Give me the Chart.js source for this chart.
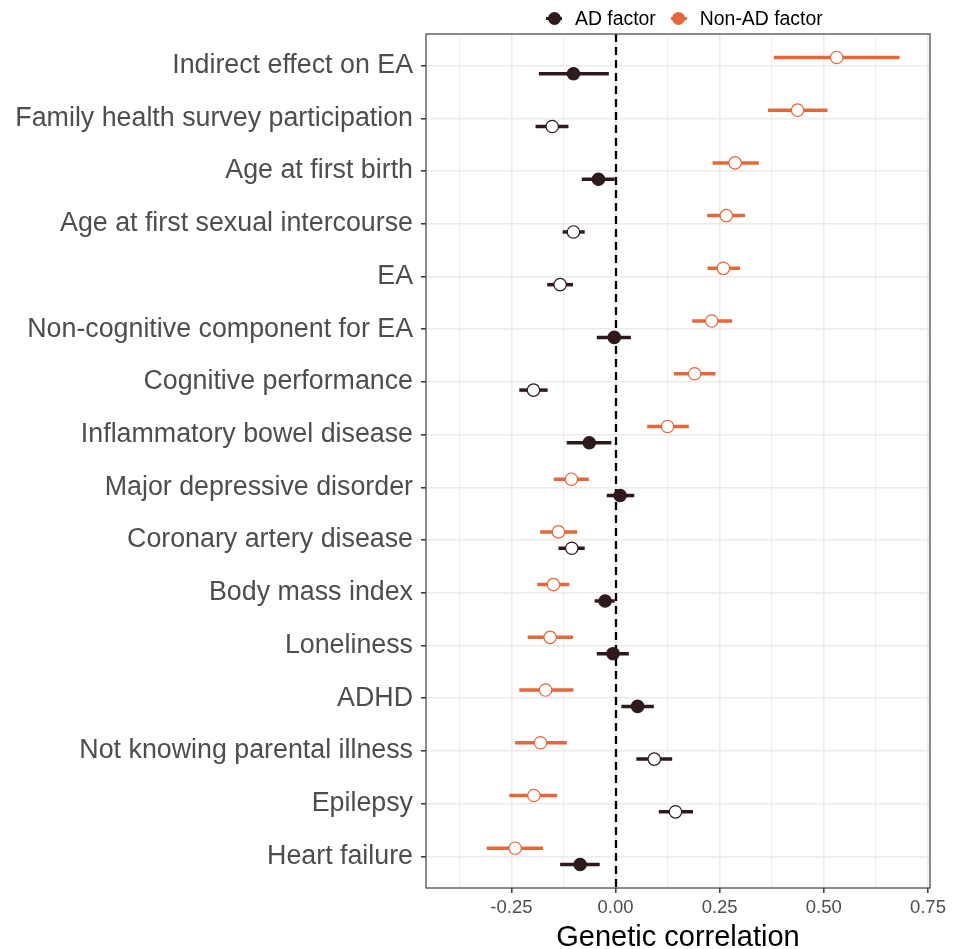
<!DOCTYPE html>
<html>
<head>
<meta charset="utf-8">
<script src="https://cdn.jsdelivr.net/npm/chart.js@4.4.1/dist/chart.umd.min.js"></script>
<style>
  html, body { margin: 0; padding: 0; background: #fff; }
  #wrap { position: relative; width: 958px; height: 949px; }
  #legend {
    position: absolute; left: 546px; top: 6px; height: 24px;
    display: flex; align-items: center;
    font-family: "Liberation Sans", Arial, sans-serif; font-size: 19.4px; color: #000;
  }
  #legend .item { display: flex; align-items: center; margin-right: 15px; }
  #legend .key { position: relative; width: 16px; height: 14px; margin-right: 13px; }
  #legend .key .ln { position: absolute; left: 0; right: 0; top: 5.5px; height: 3px; }
  #legend .key .dot { position: absolute; left: 1.5px; top: 0.5px; width: 13px; height: 13px; border-radius: 50%; }
</style>
</head>
<body>
<div id="wrap">
  <canvas id="c"></canvas>
  <div id="legend"></div>
</div>
<script>
// categories, top to bottom
var categories = [
  "Indirect effect on EA",
  "Family health survey participation",
  "Age at first birth",
  "Age at first sexual intercourse",
  "EA",
  "Non-cognitive component for EA",
  "Cognitive performance",
  "Inflammatory bowel disease",
  "Major depressive disorder",
  "Coronary artery disease",
  "Body mass index",
  "Loneliness",
  "ADHD",
  "Not knowing parental illness",
  "Epilepsy",
  "Heart failure"
];

// AD factor: estimate, lower and upper CI
var adEst   = [-0.101, -0.152, -0.041, -0.101, -0.133, -0.003, -0.197, -0.063, 0.011, -0.105, -0.025, -0.006, 0.053, 0.093, 0.144, -0.085];
var adLow   = [-0.184, -0.192, -0.081, -0.127, -0.164, -0.045, -0.231, -0.117, -0.021, -0.137, -0.050, -0.045, 0.014, 0.050, 0.104, -0.133];
var adHigh  = [-0.016, -0.113, -0.002, -0.074, -0.102, 0.037, -0.163, -0.010, 0.045, -0.074, -0.002, 0.032, 0.092, 0.136, 0.186, -0.038];
var adOpen  = [0, 1, 0, 1, 1, 0, 1, 0, 0, 1, 0, 0, 0, 1, 1, 0];

// Non-AD factor
var nadEst  = [0.531, 0.437, 0.287, 0.266, 0.259, 0.231, 0.190, 0.125, -0.106, -0.137, -0.149, -0.157, -0.168, -0.180, -0.196, -0.241];
var nadLow  = [0.380, 0.366, 0.233, 0.220, 0.221, 0.184, 0.140, 0.076, -0.148, -0.181, -0.188, -0.211, -0.231, -0.241, -0.255, -0.309];
var nadHigh = [0.682, 0.509, 0.344, 0.311, 0.299, 0.280, 0.240, 0.176, -0.064, -0.092, -0.111, -0.102, -0.101, -0.117, -0.140, -0.174];
var nadOpen = [1, 1, 1, 1, 1, 1, 1, 1, 1, 1, 1, 1, 1, 1, 1, 1];

var xTicks = [-0.375, -0.25, -0.125, 0, 0.125, 0.25, 0.375, 0.5, 0.625, 0.75];

var AD_COL = "#2e1a1c";
var NAD_COL = "#e4683a";
var FONT = "'Liberation Sans', Arial, sans-serif";
var DODGE = 0.155;

function pts(est, lo, hi, off) {
  return est.map(function (v, i) { return { x: v, y: i + off, lo: lo[i], hi: hi[i] }; });
}
function isMajor(v) { return Math.abs(v * 4 - Math.round(v * 4)) < 1e-6; }

var series = [
  { label: "AD factor", color: AD_COL, data: pts(adEst, adLow, adHigh, DODGE), open: adOpen },
  { label: "Non-AD factor", color: NAD_COL, data: pts(nadEst, nadLow, nadHigh, -DODGE), open: nadOpen }
];

// zero line + error bars under the points, panel border on top
var errorBars = {
  id: "errorBars",
  beforeDatasetsDraw: function (chart) {
    var ctx = chart.ctx, xs = chart.scales.x, ys = chart.scales.y, a = chart.chartArea;
    ctx.save();
    var x0 = Math.round(xs.getPixelForValue(0));
    ctx.strokeStyle = "#000";
    ctx.lineWidth = 2.3;
    ctx.setLineDash([8, 5]);
    ctx.beginPath();
    ctx.moveTo(x0, a.top);
    ctx.lineTo(x0, a.bottom);
    ctx.stroke();
    ctx.setLineDash([]);
    ctx.lineWidth = 3.5;
    chart.data.datasets.forEach(function (ds) {
      ctx.strokeStyle = ds.borderColor;
      ds.data.forEach(function (p) {
        var y = ys.getPixelForValue(p.y);
        ctx.beginPath();
        ctx.moveTo(xs.getPixelForValue(p.lo), y);
        ctx.lineTo(xs.getPixelForValue(p.hi), y);
        ctx.stroke();
      });
    });
    ctx.restore();
  },
  afterDraw: function (chart) {
    var ctx = chart.ctx, a = chart.chartArea;
    ctx.save();
    ctx.strokeStyle = "#4d4d4d";
    ctx.lineWidth = 1.3;
    ctx.strokeRect(a.left, a.top, a.right - a.left, a.bottom - a.top);
    ctx.restore();
  }
};

new Chart(document.getElementById("c"), {
  type: "scatter",
  data: {
    datasets: series.map(function (s) {
      return {
        label: s.label,
        data: s.data,
        borderColor: s.color,
        pointBorderColor: s.color,
        pointBackgroundColor: s.open.map(function (o) { return o ? "#ffffff" : s.color; }),
        pointBorderWidth: 1.2,
        pointRadius: 6.2,
        pointHoverRadius: 6.2
      };
    })
  },
  options: {
    responsive: true,
    maintainAspectRatio: false,
    animation: false,
    layout: { padding: { left: 0, top: 34, right: 28, bottom: 0 } },
    plugins: { legend: { display: false }, tooltip: { enabled: false } },
    scales: {
      x: {
        type: "linear",
        min: -0.455,
        max: 0.755,
        afterBuildTicks: function (sc) { sc.ticks = xTicks.map(function (v) { return { value: v }; }); },
        afterFit: function (sc) { sc.height = 61; },
        border: { display: false },
        grid: {
          color: "#ebebeb",
          lineWidth: function (c) { return (c.tick && isMajor(c.tick.value)) ? 1.6 : 0.8; },
          tickColor: function (c) { return (c.tick && isMajor(c.tick.value)) ? "#333333" : "rgba(0,0,0,0)"; },
          tickLength: 5,
          tickWidth: 1.5
        },
        ticks: {
          autoSkip: false,
          maxRotation: 0,
          padding: 4,
          color: "#4d4d4d",
          font: { family: FONT, size: 18.5 },
          callback: function (v) { return isMajor(v) ? v.toFixed(2) : ""; }
        },
        title: {
          display: true,
          text: "Genetic correlation",
          color: "#000",
          padding: 0,
          font: { family: FONT, size: 29, lineHeight: 0.74 }
        }
      },
      y: {
        type: "linear",
        reverse: true,
        min: -0.6,
        max: categories.length - 0.4,
        afterBuildTicks: function (sc) { sc.ticks = categories.map(function (_, i) { return { value: i }; }); },
        afterFit: function (sc) { sc.width = 426; },
        border: { display: false },
        grid: { color: "#ebebeb", lineWidth: 1.6, tickColor: "#333333", tickLength: 5, tickWidth: 1.5 },
        ticks: {
          autoSkip: false,
          padding: 8,
          color: "#4d4d4d",
          font: { family: FONT, size: 26.8 },
          callback: function (v) { return categories[v]; }
        }
      }
    }
  },
  plugins: [errorBars]
});

// legend
var lg = document.getElementById("legend");
series.forEach(function (s) {
  var it = document.createElement("div");
  it.className = "item";
  it.innerHTML = '<span class="key"><span class="ln" style="background:' + s.color + '"></span>' +
    '<span class="dot" style="background:' + s.color + '"></span></span><span>' + s.label + '</span>';
  lg.appendChild(it);
});
</script>
</body>
</html>
